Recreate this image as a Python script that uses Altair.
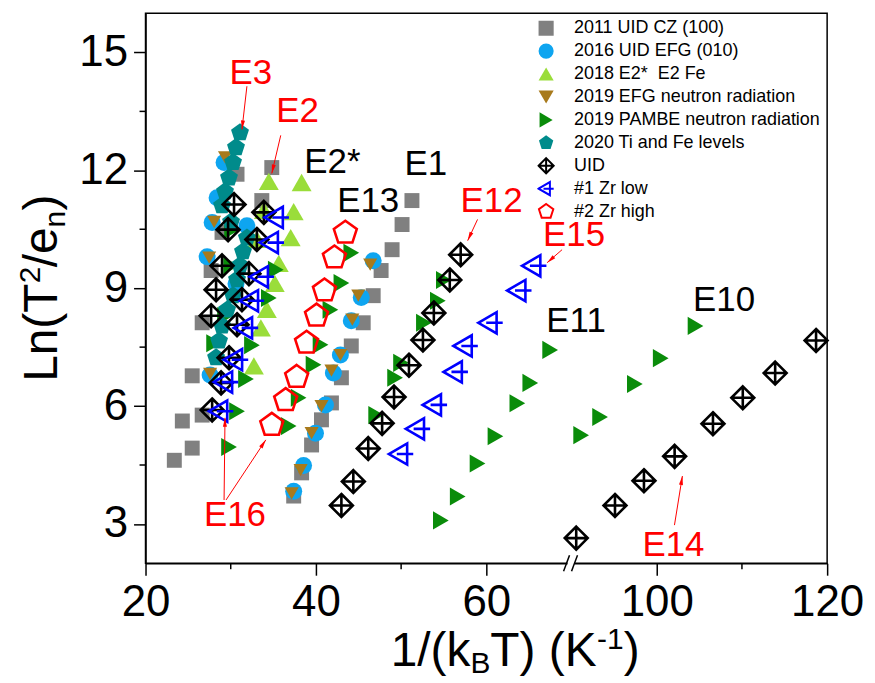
import math
import altair as alt
import pandas as pd

FONT = "Liberation Sans"

SERIES = [
    "2011 UID CZ (100)",
    "2016 UID EFG (010)",
    "2018 E2*\u00a0 E2 Fe",
    "2019 EFG neutron radiation",
    "2019 PAMBE neutron radiation",
    "2020 Ti and Fe levels",
    "UID",
    "#1 Zr low",
    "#2 Zr high",
]

# x = 1/(kB T) (K^-1) as read on the (broken) axis, y = Ln(T^2/e_n)
cz_x = [23.38, 25.48, 24.32, 26.65, 25.48, 26.65, 27.70, 28.98, 33.65, 34.82, 30.74,
        51.27, 50.11, 48.94, 47.65, 46.72, 45.55, 44.15, 42.99, 41.82, 40.65, 39.49, 38.32, 37.39]
cz_y = [4.62, 4.93, 5.62, 5.77, 6.77, 8.12, 9.45, 10.42, 11.23, 12.07, 11.90,
        11.23, 10.62, 9.98, 9.45, 8.81, 8.12, 7.53, 6.72, 6.08, 5.65, 5.01, 4.30, 3.71]

efg_x = [46.72, 45.32, 44.15, 42.87, 42.05, 41.12, 39.95, 38.55, 37.39,
         29.22, 28.40, 27.82, 27.23, 27.58, 31.90, 30.62]
efg_y = [9.70, 8.76, 8.17, 7.30, 6.84, 6.03, 5.31, 4.49, 3.83,
         12.20, 11.30, 10.67, 9.80, 6.79, 10.59, 9.11]

e2_x = [34.47, 38.32, 33.89, 37.39, 33.07, 37.04, 35.64, 35.17, 34.24, 33.54, 32.72]
e2_y = [11.72, 11.69, 10.98, 10.95, 10.24, 10.29, 9.63, 9.12, 8.46, 7.99, 7.02]

efgn_x = [46.37, 44.97, 44.27, 42.87, 41.82, 40.65, 39.49, 38.20, 37.15,
          29.33, 28.05, 27.47, 27.58]
efgn_y = [9.60, 8.81, 8.20, 7.30, 6.90, 6.00, 5.31, 4.37, 3.78,
          12.33, 10.69, 9.78, 6.82]

pambe_x = [30.15, 30.04, 29.33, 28.05, 34.47, 35.29, 32.49, 31.79, 30.74, 29.80,
           44.15, 42.99, 41.70, 40.54, 39.72, 37.97, 36.80,
           55.01, 54.31, 52.67, 49.99, 49.29, 47.07,
           67.49, 65.16, 63.64, 61.07, 58.97, 56.64, 54.66,
           104.55, 100.47, 97.43, 93.35, 91.13]
pambe_y = [10.49, 9.57, 8.29, 7.60, 8.75, 9.47, 7.55, 6.69, 5.87, 4.96,
           9.90, 9.13, 8.45, 7.56, 7.05, 6.21, 5.49,
           9.21, 8.68, 8.12, 7.10, 6.72, 5.77,
           7.43, 6.59, 6.07, 5.23, 4.54, 3.70, 3.09,
           8.04, 7.22, 6.56, 5.72, 5.26]

ti_x = [31.09, 30.62, 30.27, 29.80, 29.33, 28.98, 30.04, 31.90, 31.44, 31.09,
        30.74, 30.27, 29.57, 28.98, 28.63, 28.28]
ti_y = [12.96, 12.58, 12.20, 11.81, 11.46, 11.10, 10.69, 10.28, 9.93, 9.58,
        9.22, 8.81, 8.45, 8.04, 7.66, 7.23]

uid_x = [30.39, 33.89, 29.69, 33.07, 28.98, 32.14, 28.28, 31.32, 27.70, 30.74, 29.80, 28.87, 27.82,
         56.99, 55.71, 53.84, 52.56, 50.92, 49.17, 47.77, 46.14, 44.39, 42.99,
         118.7, 113.9, 110.1, 106.6, 102.1, 98.5, 95.1, 90.55]
uid_y = [11.13, 10.93, 10.49, 10.24, 9.57, 9.37, 8.96, 8.71, 8.30, 8.07, 7.23, 6.59, 5.90,
         9.85, 9.21, 8.37, 7.68, 7.04, 6.23, 5.56, 4.92, 4.08, 3.47,
         7.67, 6.84, 6.21, 5.55, 4.72, 4.10, 3.47, 2.64]

zr1_x = [35.40, 34.82, 33.65, 32.49, 31.79, 30.62, 29.45, 28.87,
         65.62, 63.87, 60.49, 57.57, 56.41, 53.96, 51.97, 49.99]
zr1_y = [10.80, 10.16, 9.29, 8.68, 7.99, 7.18, 6.61, 5.87,
         9.57, 8.94, 8.12, 7.53, 6.87, 6.03, 5.42, 4.78]

zr2_x = [43.45, 42.17, 41.00, 40.07, 38.90, 37.74, 36.45, 34.82]
zr2_y = [10.41, 9.78, 8.94, 8.30, 7.61, 6.74, 6.15, 5.52]

# axis ticks (axis is broken between 70 and 90)
X_TICKS = [20, 40, 60, 100, 120]
X_MINOR = [30, 50, 110]
Y_TICKS = [3, 6, 9, 12, 15]
Y_MINOR = [4.5, 7.5, 10.5, 13.5]
BREAK_LO, BREAK_HI = 70, 90

# annotation labels, in plotted-axis coordinates
red_labels = ["E3", "E2", "E12", "E15", "E16", "E14"]
red_u = [32.37, 37.85, 60.61, 70.29, 30.50, 81.96]
red_y = [14.47, 13.50, 11.23, 10.36, 3.22, 2.46]
black_labels = ["E2*", "E1", "E13", "E11", "E10"]
black_u = [41.94, 52.91, 46.14, 70.53, 87.91]
black_y = [12.22, 12.17, 11.23, 8.17, 8.70]

arrow_u1 = [31.90, 35.87, 58.97, 68.89, 29.22, 29.45, 82.08]
arrow_y1 = [14.14, 12.89, 10.75, 9.98, 3.61, 3.61, 2.97]
arrow_u2 = [31.32, 34.82, 57.81, 67.14, 29.33, 34.12, 83.01]
arrow_y2 = [13.04, 11.92, 10.21, 9.65, 5.70, 5.14, 4.22]

# ---------------------------------------------------------------------------
W, H = 684, 552
GAP = BREAK_HI - BREAK_LO
U_DOMAIN = [20, 120 - GAP]

rows = []
for name, xs, ys in zip(SERIES,
                        [cz_x, efg_x, e2_x, efgn_x, pambe_x, ti_x, uid_x, zr1_x, zr2_x],
                        [cz_y, efg_y, e2_y, efgn_y, pambe_y, ti_y, uid_y, zr1_y, zr2_y]):
    rows += [{"series": name, "x": x, "y": y} for x, y in zip(xs, ys)]
df = pd.DataFrame(rows)

PENTA = "M0,-1L0.951,-0.309L0.588,0.809L-0.588,0.809L-0.951,-0.309Z"
DIAM = "M0,-1L1,0L0,1L-1,0Z M0,-1L0,1 M-1,0L1,0"
TRI_L = "M-1,0L0.5,-0.87L0.5,0.87Z M-0.35,0L1,0"

shape_range = ["square", "circle", "triangle-up", "triangle-down", "triangle-right",
               PENTA, DIAM, TRI_L, PENTA]
fill_range = ["#808080", "#0EA5F0", "#9ADD3A", "#A87A1C", "#0A8C0A", "#008B8B",
              "transparent", "transparent", "transparent"]
stroke_range = ["transparent"] * 6 + ["#000000", "#0000FF", "#FF0000"]
sizes = [225, 290, 400, 200, 330, 358, 529, 600, 585]
widths = [0, 0, 0, 0, 0, 0, 2.6, 2.6, 2.6]

xscale = alt.Scale(domain=U_DOMAIN, nice=False, zero=False)
yscale = alt.Scale(domain=[2, 16], nice=False, zero=False)

u_tick_vals = [v if v <= BREAK_LO else v - GAP for v in X_TICKS]
u_minor_vals = [v if v <= BREAK_LO else v - GAP for v in X_MINOR]

xaxis = alt.Axis(values=u_tick_vals, title=None, tickSize=12, labelPadding=5,
                 labelFlush=False, labelFontSize=44,
                 labelExpr=f"datum.value > {BREAK_LO} ? '' + (datum.value + {GAP}) : datum.label")
yaxis = alt.Axis(values=Y_TICKS, title=None, tickSize=12, labelPadding=6,
                 labelFlush=False, labelFontSize=44)

legend = alt.Legend(title=None, orient="none", legendX=393, legendY=4,
                    labelFont=FONT, labelFontSize=18, labelColor="black",
                    symbolSize=230, symbolStrokeWidth=2, rowPadding=0, clipHeight=22.2,
                    labelOffset=19, padding=0, labelLimit=400, symbolOpacity=1)

base = alt.Chart(df).transform_calculate(
    u=f"datum.x >= {BREAK_HI} ? datum.x - {GAP} : datum.x")

layers = []
for name, size, sw in zip(SERIES, sizes, widths):
    layers.append(
        base.transform_filter(alt.FieldEqualPredicate(field="series", equal=name))
        .mark_point(size=size, strokeWidth=sw, opacity=1)
        .encode(
            x=alt.X("u:Q", scale=xscale, axis=xaxis),
            y=alt.Y("y:Q", scale=yscale, axis=yaxis),
            shape=alt.Shape("series:N", scale=alt.Scale(domain=SERIES, range=shape_range), legend=legend),
            fill=alt.Fill("series:N", scale=alt.Scale(domain=SERIES, range=fill_range), legend=legend),
            stroke=alt.Stroke("series:N", scale=alt.Scale(domain=SERIES, range=stroke_range), legend=legend),
        )
    )

# minor ticks
ymin = alt.Chart(pd.DataFrame({"y": Y_MINOR})).mark_rule(color="black", strokeWidth=1.5).encode(
    y=alt.Y("y:Q", scale=yscale, axis=yaxis), x=alt.value(-6), x2=alt.value(0))
xmin = alt.Chart(pd.DataFrame({"u": u_minor_vals})).mark_rule(color="black", strokeWidth=1.5).encode(
    x=alt.X("u:Q", scale=xscale, axis=xaxis), y=alt.value(H), y2=alt.value(H + 6))

# annotations
red_df = pd.DataFrame({"label": red_labels, "u": red_u, "y": red_y})
black_df = pd.DataFrame({"label": black_labels, "u": black_u, "y": black_y})
red_txt = alt.Chart(red_df).mark_text(font=FONT, fontSize=35, color="#FF0000",
                                      align="center", baseline="middle").encode(
    x=alt.X("u:Q", scale=xscale, axis=xaxis), y=alt.Y("y:Q", scale=yscale, axis=yaxis), text="label:N")
black_txt = alt.Chart(black_df).mark_text(font=FONT, fontSize=35, color="black",
                                          align="center", baseline="middle").encode(
    x=alt.X("u:Q", scale=xscale, axis=xaxis), y=alt.Y("y:Q", scale=yscale, axis=yaxis), text="label:N")

pxu = W / (U_DOMAIN[1] - U_DOMAIN[0])
pyu = H / 14.0
angles = []
for a, b, c, d in zip(arrow_u1, arrow_y1, arrow_u2, arrow_y2):
    dx = (c - a) * pxu
    dy = -(d - b) * pyu
    angles.append(math.degrees(math.atan2(dx, -dy)) % 360)
arr_df = pd.DataFrame({"u1": arrow_u1, "y1": arrow_y1, "u2": arrow_u2, "y2": arrow_y2, "ang": angles})
arr_line = alt.Chart(arr_df).mark_rule(color="#FF0000", strokeWidth=1).encode(
    x=alt.X("u1:Q", scale=xscale, axis=xaxis), y=alt.Y("y1:Q", scale=yscale, axis=yaxis),
    x2="u2:Q", y2="y2:Q")
HEAD = "M0,0L-0.45,2L0.45,2Z"
arr_head = alt.Chart(arr_df).mark_point(shape=HEAD, filled=True, color="#FF0000", size=81, opacity=1).encode(
    x=alt.X("u2:Q", scale=xscale, axis=xaxis), y=alt.Y("y2:Q", scale=yscale, axis=yaxis),
    angle=alt.Angle("ang:Q", scale=None))

# axis break marks
bx = (BREAK_LO - U_DOMAIN[0]) * pxu
dummy = pd.DataFrame({"a": [0]})
brk_white = alt.Chart(dummy).mark_rect(color="white").encode(
    x=alt.value(bx - 4), x2=alt.value(bx + 3), y=alt.value(H - 3), y2=alt.value(H + 3))
brk1 = alt.Chart(dummy).mark_rule(color="black", strokeWidth=1.5).encode(
    x=alt.value(bx - 8), x2=alt.value(bx - 2), y=alt.value(H + 8), y2=alt.value(H - 8))
brk2 = alt.Chart(dummy).mark_rule(color="black", strokeWidth=1.5).encode(
    x=alt.value(bx), x2=alt.value(bx + 6), y=alt.value(H + 8), y2=alt.value(H - 8))


def piece(text, px, py, size, angle=0):
    return alt.Chart(pd.DataFrame({"t": [text]})).mark_text(
        font=FONT, fontSize=size, align="left", baseline="alphabetic",
        angle=angle, color="black").encode(text="t:N", x=alt.value(px), y=alt.value(py))


# axis titles: 1/(k_B T) (K^-1)  and  Ln(T^2/e_n)
xt = [piece("1/(k", 246, 655, 48), piece("B", 326, 662, 30), piece("T) (K", 346, 655, 48),
      piece("-1", 453, 638, 30), piece(")", 480, 655, 48)]
yt = [piece("Ln(T", -89, 370, 48, 270), piece("2", -106, 271, 30, 270),
      piece("/e", -89, 255, 48, 270), piece("n", -81, 215, 30, 270),
      piece(")", -89, 198, 48, 270)]

chart = alt.layer(
    *layers, ymin, xmin, arr_line, arr_head, red_txt, black_txt,
    brk_white, brk1, brk2, *xt, *yt
).properties(
    width=W, height=H,
    padding={"left": 138, "top": 4, "right": 40, "bottom": 116},
    autosize=alt.AutoSizeParams(type="none"),
).configure_view(
    stroke="black", strokeWidth=1.5
).configure_axis(
    domainColor="black", domainWidth=1.5, tickColor="black", tickWidth=1.5,
    labelColor="black", labelFont=FONT, grid=False
)

chart.save("out.html", embed_options={"renderer": "svg", "actions": False})
